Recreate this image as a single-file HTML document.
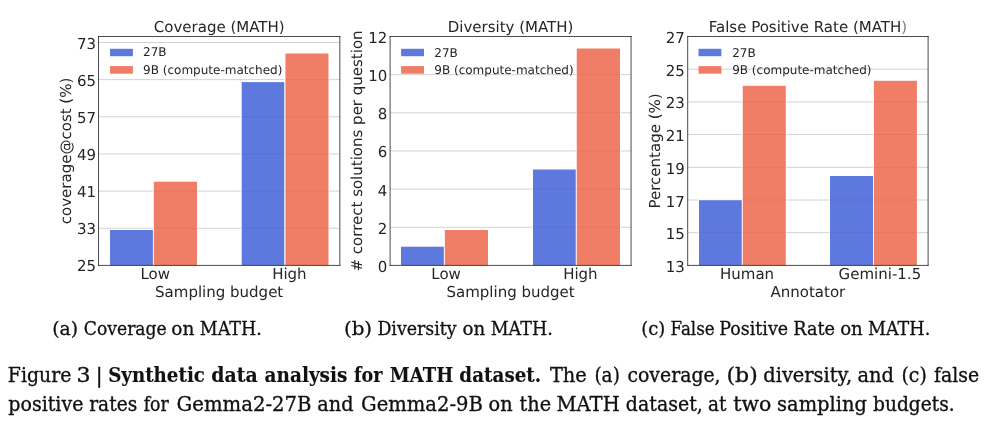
<!DOCTYPE html>
<html lang="en"><head><meta charset="utf-8"><title>Figure 3 - Synthetic data analysis for MATH dataset</title>
<style>
html,body{margin:0;padding:0;background:#fff;}
body{width:996px;height:432px;overflow:hidden;position:relative;}
svg{position:absolute;left:0;top:0;display:block;}
.c{font-family:"DejaVu Sans","Liberation Sans",sans-serif;fill:#262626;text-rendering:geometricPrecision;}
.t{font-size:15px;}
.l{font-size:12px;}
.s{font-family:"DejaVu Serif","Liberation Serif",serif;font-size:20.5px;fill:#111;stroke:#111;stroke-width:0.35px;stroke-linejoin:round;}
.b{font-weight:bold;stroke-width:0.15px;}
.u{font-size:18.6px;stroke-width:0.3px;}
</style></head><body>
<svg width="996" height="432" viewBox="0 0 996 432">
<rect x="0" y="0" width="996" height="432" fill="#ffffff"/>
<g>
<line x1="98.5" x2="339.85" y1="228.25" y2="228.25" stroke="#d2d2d2" stroke-width="1"/>
<line x1="98.5" x2="339.85" y1="191.10" y2="191.10" stroke="#d2d2d2" stroke-width="1"/>
<line x1="98.5" x2="339.85" y1="153.95" y2="153.95" stroke="#d2d2d2" stroke-width="1"/>
<line x1="98.5" x2="339.85" y1="116.80" y2="116.80" stroke="#d2d2d2" stroke-width="1"/>
<line x1="98.5" x2="339.85" y1="79.65" y2="79.65" stroke="#d2d2d2" stroke-width="1"/>
<line x1="98.5" x2="339.85" y1="42.50" y2="42.50" stroke="#d2d2d2" stroke-width="1"/>
<rect x="109.15" y="229.10" width="44.70" height="36.30" fill="#fff"/>
<rect x="110.05" y="230.00" width="42.90" height="35.40" fill="#4767da" fill-opacity="0.88"/>
<rect x="152.95" y="180.80" width="44.95" height="84.60" fill="#fff"/>
<rect x="153.85" y="181.70" width="43.15" height="83.70" fill="#ee6c51" fill-opacity="0.88"/>
<rect x="240.80" y="81.20" width="44.55" height="184.20" fill="#fff"/>
<rect x="241.70" y="82.10" width="42.75" height="183.30" fill="#4767da" fill-opacity="0.88"/>
<rect x="284.55" y="52.60" width="44.85" height="212.80" fill="#fff"/>
<rect x="285.45" y="53.50" width="43.05" height="211.90" fill="#ee6c51" fill-opacity="0.88"/>
<line x1="153.85" x2="197.00" y1="228.25" y2="228.25" stroke="#000" stroke-opacity="0.06" stroke-width="1"/>
<line x1="241.70" x2="284.45" y1="228.25" y2="228.25" stroke="#000" stroke-opacity="0.06" stroke-width="1"/>
<line x1="285.45" x2="328.50" y1="228.25" y2="228.25" stroke="#000" stroke-opacity="0.06" stroke-width="1"/>
<line x1="153.85" x2="197.00" y1="191.10" y2="191.10" stroke="#000" stroke-opacity="0.06" stroke-width="1"/>
<line x1="241.70" x2="284.45" y1="191.10" y2="191.10" stroke="#000" stroke-opacity="0.06" stroke-width="1"/>
<line x1="285.45" x2="328.50" y1="191.10" y2="191.10" stroke="#000" stroke-opacity="0.06" stroke-width="1"/>
<line x1="241.70" x2="284.45" y1="153.95" y2="153.95" stroke="#000" stroke-opacity="0.06" stroke-width="1"/>
<line x1="285.45" x2="328.50" y1="153.95" y2="153.95" stroke="#000" stroke-opacity="0.06" stroke-width="1"/>
<line x1="241.70" x2="284.45" y1="116.80" y2="116.80" stroke="#000" stroke-opacity="0.06" stroke-width="1"/>
<line x1="285.45" x2="328.50" y1="116.80" y2="116.80" stroke="#000" stroke-opacity="0.06" stroke-width="1"/>
<line x1="285.45" x2="328.50" y1="79.65" y2="79.65" stroke="#000" stroke-opacity="0.06" stroke-width="1"/>
<path d="M98.5 36.5 H339.85 M98.5 265.4 H339.85 M98.5 36.5 V265.4 M339.85 36.5 V265.4" fill="none" stroke="#2a2a2a" stroke-width="0.85" stroke-linecap="square"/>
<rect x="110.00" y="48.8" width="22.9" height="7.4" fill="#4767da" fill-opacity="0.88"/>
<rect x="110.00" y="66.1" width="22.9" height="7.6" fill="#ee6c51" fill-opacity="0.88"/>
<text class="c l" x="143.10" y="56.40">27B</text>
<text class="c l" x="143.10" y="73.60">9B (compute-matched)</text>
<text class="c t" text-anchor="end" x="96.10" y="271.40">25</text>
<text class="c t" text-anchor="end" x="96.10" y="234.25">33</text>
<text class="c t" text-anchor="end" x="96.10" y="197.10">41</text>
<text class="c t" text-anchor="end" x="96.10" y="159.95">49</text>
<text class="c t" text-anchor="end" x="96.10" y="122.80">57</text>
<text class="c t" text-anchor="end" x="96.10" y="85.65">65</text>
<text class="c t" text-anchor="end" x="96.10" y="48.50">73</text>
<text class="c t" text-anchor="middle" x="155.15" y="279.45">Low</text>
<text class="c t" text-anchor="middle" x="289.40" y="279.45">High</text>
<text class="c t" text-anchor="middle" x="219.18" y="296.8">Sampling budget</text>
<text class="c t" text-anchor="middle" x="219.18" y="32.05">Coverage (MATH)</text>
<text class="c t" text-anchor="middle" transform="translate(70.80 150.95) rotate(-90)">coverage@cost (%)</text>
</g>
<g>
<line x1="390.1" x2="631.05" y1="227.25" y2="227.25" stroke="#d2d2d2" stroke-width="1"/>
<line x1="390.1" x2="631.05" y1="189.10" y2="189.10" stroke="#d2d2d2" stroke-width="1"/>
<line x1="390.1" x2="631.05" y1="150.95" y2="150.95" stroke="#d2d2d2" stroke-width="1"/>
<line x1="390.1" x2="631.05" y1="112.80" y2="112.80" stroke="#d2d2d2" stroke-width="1"/>
<line x1="390.1" x2="631.05" y1="74.65" y2="74.65" stroke="#d2d2d2" stroke-width="1"/>
<rect x="400.10" y="245.80" width="44.70" height="19.60" fill="#fff"/>
<rect x="401.00" y="246.70" width="42.90" height="18.70" fill="#4767da" fill-opacity="0.88"/>
<rect x="443.95" y="229.10" width="44.95" height="36.30" fill="#fff"/>
<rect x="444.85" y="230.00" width="43.15" height="35.40" fill="#ee6c51" fill-opacity="0.88"/>
<rect x="532.10" y="168.60" width="44.65" height="96.80" fill="#fff"/>
<rect x="533.00" y="169.50" width="42.85" height="95.90" fill="#4767da" fill-opacity="0.88"/>
<rect x="575.85" y="47.60" width="45.05" height="217.80" fill="#fff"/>
<rect x="576.75" y="48.50" width="43.25" height="216.90" fill="#ee6c51" fill-opacity="0.88"/>
<line x1="533.00" x2="575.85" y1="227.25" y2="227.25" stroke="#000" stroke-opacity="0.06" stroke-width="1"/>
<line x1="576.75" x2="620.00" y1="227.25" y2="227.25" stroke="#000" stroke-opacity="0.06" stroke-width="1"/>
<line x1="533.00" x2="575.85" y1="189.10" y2="189.10" stroke="#000" stroke-opacity="0.06" stroke-width="1"/>
<line x1="576.75" x2="620.00" y1="189.10" y2="189.10" stroke="#000" stroke-opacity="0.06" stroke-width="1"/>
<line x1="576.75" x2="620.00" y1="150.95" y2="150.95" stroke="#000" stroke-opacity="0.06" stroke-width="1"/>
<line x1="576.75" x2="620.00" y1="112.80" y2="112.80" stroke="#000" stroke-opacity="0.06" stroke-width="1"/>
<line x1="576.75" x2="620.00" y1="74.65" y2="74.65" stroke="#000" stroke-opacity="0.06" stroke-width="1"/>
<path d="M390.1 36.5 H631.05 M390.1 265.4 H631.05 M390.1 36.5 V265.4 M631.05 36.5 V265.4" fill="none" stroke="#2a2a2a" stroke-width="0.85" stroke-linecap="square"/>
<rect x="401.10" y="48.8" width="22.9" height="7.4" fill="#4767da" fill-opacity="0.88"/>
<rect x="401.10" y="66.1" width="22.9" height="7.6" fill="#ee6c51" fill-opacity="0.88"/>
<text class="c l" x="434.30" y="56.90">27B</text>
<text class="c l" x="434.30" y="74.10">9B (compute-matched)</text>
<text class="c t" text-anchor="end" x="387.25" y="271.90">0</text>
<text class="c t" text-anchor="end" x="387.25" y="233.75">2</text>
<text class="c t" text-anchor="end" x="387.25" y="195.60">4</text>
<text class="c t" text-anchor="end" x="387.25" y="157.45">6</text>
<text class="c t" text-anchor="end" x="387.25" y="119.30">8</text>
<text class="c t" text-anchor="end" x="387.25" y="81.15">10</text>
<text class="c t" text-anchor="end" x="387.25" y="43.00">12</text>
<text class="c t" text-anchor="middle" x="446.10" y="279.45">Low</text>
<text class="c t" text-anchor="middle" x="580.40" y="279.45">High</text>
<text class="c t" text-anchor="middle" x="510.57" y="296.8">Sampling budget</text>
<text class="c t" text-anchor="middle" x="510.57" y="32.05">Diversity (MATH)</text>
<text class="c t" text-anchor="middle" transform="translate(361.75 150.95) rotate(-90)"># correct solutions per question</text>
</g>
<g>
<line x1="687.7" x2="928.1" y1="232.70" y2="232.70" stroke="#d2d2d2" stroke-width="1"/>
<line x1="687.7" x2="928.1" y1="200.00" y2="200.00" stroke="#d2d2d2" stroke-width="1"/>
<line x1="687.7" x2="928.1" y1="167.30" y2="167.30" stroke="#d2d2d2" stroke-width="1"/>
<line x1="687.7" x2="928.1" y1="134.60" y2="134.60" stroke="#d2d2d2" stroke-width="1"/>
<line x1="687.7" x2="928.1" y1="101.90" y2="101.90" stroke="#d2d2d2" stroke-width="1"/>
<line x1="687.7" x2="928.1" y1="69.20" y2="69.20" stroke="#d2d2d2" stroke-width="1"/>
<rect x="698.10" y="199.30" width="44.65" height="66.10" fill="#fff"/>
<rect x="699.00" y="200.20" width="42.85" height="65.20" fill="#4767da" fill-opacity="0.88"/>
<rect x="741.85" y="84.90" width="44.85" height="180.50" fill="#fff"/>
<rect x="742.75" y="85.80" width="43.05" height="179.60" fill="#ee6c51" fill-opacity="0.88"/>
<rect x="829.10" y="175.10" width="44.80" height="90.30" fill="#fff"/>
<rect x="830.00" y="176.00" width="43.00" height="89.40" fill="#4767da" fill-opacity="0.88"/>
<rect x="873.00" y="79.90" width="44.80" height="185.50" fill="#fff"/>
<rect x="873.90" y="80.80" width="43.00" height="184.60" fill="#ee6c51" fill-opacity="0.88"/>
<line x1="699.00" x2="741.85" y1="232.70" y2="232.70" stroke="#000" stroke-opacity="0.06" stroke-width="1"/>
<line x1="742.75" x2="785.80" y1="232.70" y2="232.70" stroke="#000" stroke-opacity="0.06" stroke-width="1"/>
<line x1="830.00" x2="873.00" y1="232.70" y2="232.70" stroke="#000" stroke-opacity="0.06" stroke-width="1"/>
<line x1="873.90" x2="916.90" y1="232.70" y2="232.70" stroke="#000" stroke-opacity="0.06" stroke-width="1"/>
<line x1="742.75" x2="785.80" y1="200.00" y2="200.00" stroke="#000" stroke-opacity="0.06" stroke-width="1"/>
<line x1="830.00" x2="873.00" y1="200.00" y2="200.00" stroke="#000" stroke-opacity="0.06" stroke-width="1"/>
<line x1="873.90" x2="916.90" y1="200.00" y2="200.00" stroke="#000" stroke-opacity="0.06" stroke-width="1"/>
<line x1="742.75" x2="785.80" y1="167.30" y2="167.30" stroke="#000" stroke-opacity="0.06" stroke-width="1"/>
<line x1="873.90" x2="916.90" y1="167.30" y2="167.30" stroke="#000" stroke-opacity="0.06" stroke-width="1"/>
<line x1="742.75" x2="785.80" y1="134.60" y2="134.60" stroke="#000" stroke-opacity="0.06" stroke-width="1"/>
<line x1="873.90" x2="916.90" y1="134.60" y2="134.60" stroke="#000" stroke-opacity="0.06" stroke-width="1"/>
<line x1="742.75" x2="785.80" y1="101.90" y2="101.90" stroke="#000" stroke-opacity="0.06" stroke-width="1"/>
<line x1="873.90" x2="916.90" y1="101.90" y2="101.90" stroke="#000" stroke-opacity="0.06" stroke-width="1"/>
<path d="M687.7 36.5 H928.1 M687.7 265.4 H928.1 M687.7 36.5 V265.4 M928.1 36.5 V265.4" fill="none" stroke="#2a2a2a" stroke-width="0.85" stroke-linecap="square"/>
<rect x="698.50" y="48.8" width="22.9" height="7.4" fill="#4767da" fill-opacity="0.88"/>
<rect x="698.50" y="66.1" width="22.9" height="7.6" fill="#ee6c51" fill-opacity="0.88"/>
<text class="c l" x="732.20" y="56.90">27B</text>
<text class="c l" x="732.20" y="74.10">9B (compute-matched)</text>
<text class="c t" text-anchor="end" x="684.80" y="271.90">13</text>
<text class="c t" text-anchor="end" x="684.80" y="239.20">15</text>
<text class="c t" text-anchor="end" x="684.80" y="206.50">17</text>
<text class="c t" text-anchor="end" x="684.80" y="173.80">19</text>
<text class="c t" text-anchor="end" x="684.80" y="141.10">21</text>
<text class="c t" text-anchor="end" x="684.80" y="108.40">23</text>
<text class="c t" text-anchor="end" x="684.80" y="75.70">25</text>
<text class="c t" text-anchor="end" x="684.80" y="43.00">27</text>
<text class="c t" text-anchor="middle" x="747.10" y="279.45">Human</text>
<text class="c t" text-anchor="middle" x="879.90" y="279.45">Gemini-1.5</text>
<text class="c t" text-anchor="middle" x="807.90" y="296.8">Annotator</text>
<text class="c t" text-anchor="middle" x="807.90" y="32.05">False Positive Rate (MATH<tspan fill-opacity="0.6">)</tspan></text>
<text class="c t" text-anchor="middle" transform="translate(659.70 150.95) rotate(-90)">Percentage (%)</text>
</g>
<text class="s" y="382.40"><tspan x="7.83" textLength="63.57" lengthAdjust="spacingAndGlyphs">Figure</tspan> <tspan x="76.40" textLength="14.12" lengthAdjust="spacingAndGlyphs">3</tspan> <tspan x="95.75" textLength="6.91" lengthAdjust="spacingAndGlyphs">|</tspan> <tspan class="b" x="108.18" textLength="96.76" lengthAdjust="spacingAndGlyphs">Synthetic</tspan> <tspan class="b" x="211.35" textLength="46.34" lengthAdjust="spacingAndGlyphs">data</tspan> <tspan class="b" x="264.56" textLength="82.87" lengthAdjust="spacingAndGlyphs">analysis</tspan> <tspan class="b" x="353.97" textLength="28.46" lengthAdjust="spacingAndGlyphs">for</tspan> <tspan class="b" x="389.82" textLength="63.37" lengthAdjust="spacingAndGlyphs">MATH</tspan> <tspan class="b" x="459.37" textLength="81.85" lengthAdjust="spacingAndGlyphs">dataset.</tspan> <tspan x="549.91" textLength="36.85" lengthAdjust="spacingAndGlyphs">The</tspan> <tspan x="594.42" textLength="25.46" lengthAdjust="spacingAndGlyphs">(a)</tspan> <tspan x="627.46" textLength="93.16" lengthAdjust="spacingAndGlyphs">coverage,</tspan> <tspan x="726.54" textLength="31.23" lengthAdjust="spacingAndGlyphs">(b)</tspan> <tspan x="763.33" textLength="88.74" lengthAdjust="spacingAndGlyphs">diversity,</tspan> <tspan x="857.53" textLength="36.56" lengthAdjust="spacingAndGlyphs">and</tspan> <tspan x="901.49" textLength="25.33" lengthAdjust="spacingAndGlyphs">(c)</tspan> <tspan x="934.01" textLength="45.09" lengthAdjust="spacingAndGlyphs">false</tspan></text>
<text class="s" y="410.50"><tspan x="8.33" textLength="75.06" lengthAdjust="spacingAndGlyphs">positive</tspan> <tspan x="89.22" textLength="48.03" lengthAdjust="spacingAndGlyphs">rates</tspan> <tspan x="143.67" textLength="25.04" lengthAdjust="spacingAndGlyphs">for</tspan> <tspan x="176.59" textLength="134.92" lengthAdjust="spacingAndGlyphs">Gemma2-27B</tspan> <tspan x="317.34" textLength="36.25" lengthAdjust="spacingAndGlyphs">and</tspan> <tspan x="361.09" textLength="121.72" lengthAdjust="spacingAndGlyphs">Gemma2-9B</tspan> <tspan x="488.53" textLength="24.07" lengthAdjust="spacingAndGlyphs">on</tspan> <tspan x="519.62" textLength="31.60" lengthAdjust="spacingAndGlyphs">the</tspan> <tspan x="556.52" textLength="63.23" lengthAdjust="spacingAndGlyphs">MATH</tspan> <tspan x="625.85" textLength="76.93" lengthAdjust="spacingAndGlyphs">dataset,</tspan> <tspan x="707.97" textLength="18.47" lengthAdjust="spacingAndGlyphs">at</tspan> <tspan x="733.19" textLength="38.03" lengthAdjust="spacingAndGlyphs">two</tspan> <tspan x="777.10" textLength="89.82" lengthAdjust="spacingAndGlyphs">sampling</tspan> <tspan x="873.04" textLength="81.64" lengthAdjust="spacingAndGlyphs">budgets.</tspan></text>
<text class="s u" y="334.60"><tspan x="52.19" textLength="25.91" lengthAdjust="spacingAndGlyphs">(a)</tspan> <tspan x="83.83" textLength="82.88" lengthAdjust="spacingAndGlyphs">Coverage</tspan> <tspan x="171.37" textLength="23.11" lengthAdjust="spacingAndGlyphs">on</tspan> <tspan x="199.72" textLength="62.14" lengthAdjust="spacingAndGlyphs">MATH.</tspan></text>
<text class="s u" y="334.60"><tspan x="343.91" textLength="28.18" lengthAdjust="spacingAndGlyphs">(b)</tspan> <tspan x="377.41" textLength="79.24" lengthAdjust="spacingAndGlyphs">Diversity</tspan> <tspan x="462.59" textLength="22.69" lengthAdjust="spacingAndGlyphs">on</tspan> <tspan x="490.73" textLength="62.04" lengthAdjust="spacingAndGlyphs">MATH.</tspan></text>
<text class="s u" y="334.60"><tspan x="641.37" textLength="23.97" lengthAdjust="spacingAndGlyphs">(c)</tspan> <tspan x="670.45" textLength="44.23" lengthAdjust="spacingAndGlyphs">False</tspan> <tspan x="719.31" textLength="68.74" lengthAdjust="spacingAndGlyphs">Positive</tspan> <tspan x="793.20" textLength="41.87" lengthAdjust="spacingAndGlyphs">Rate</tspan> <tspan x="840.19" textLength="22.58" lengthAdjust="spacingAndGlyphs">on</tspan> <tspan x="867.92" textLength="62.35" lengthAdjust="spacingAndGlyphs">MATH.</tspan></text>
</svg>
</body></html>
